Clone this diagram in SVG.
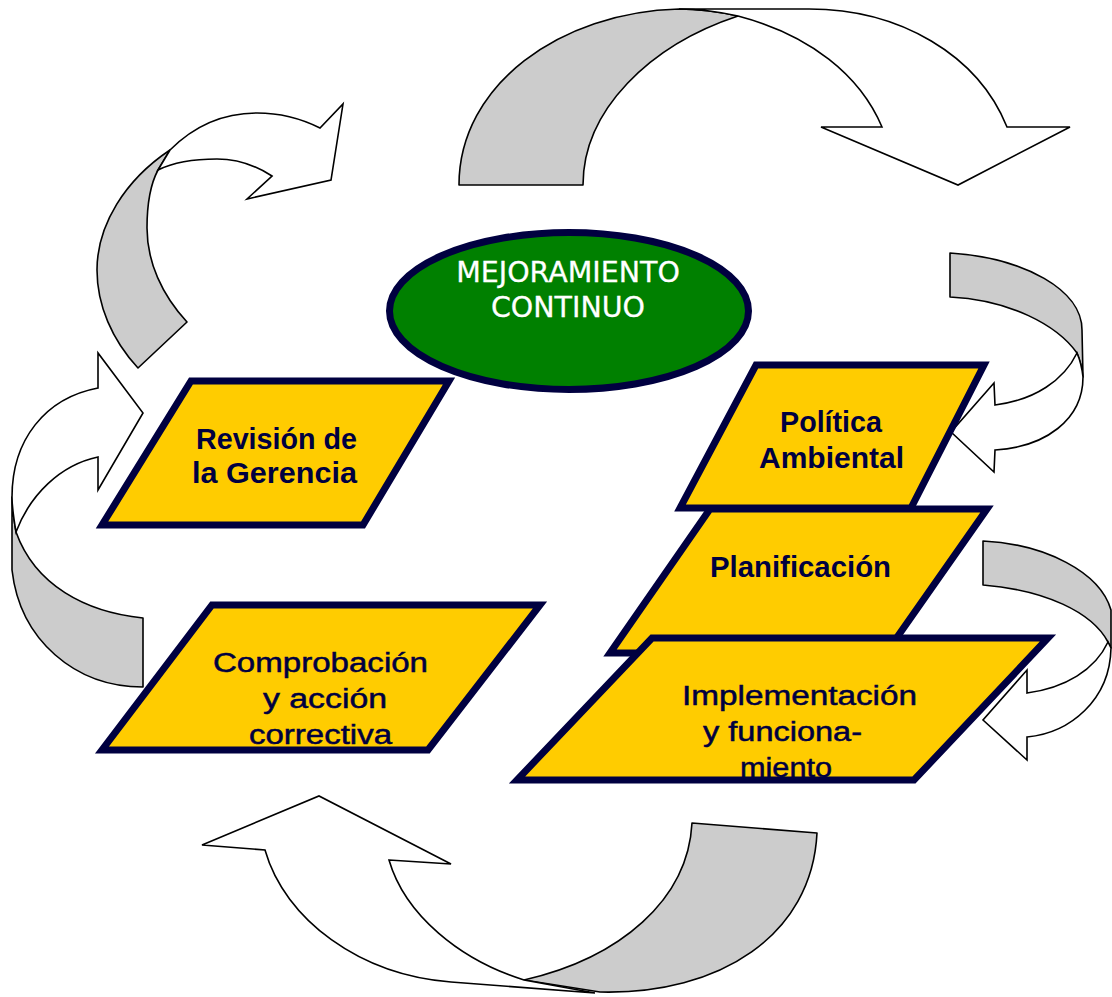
<svg xmlns="http://www.w3.org/2000/svg" width="1112" height="997" viewBox="0 0 1112 997">
  <style>
    .back { fill: #cccccc; stroke: #000000; stroke-width: 1.6; stroke-linejoin: round; }
    .front { fill: #ffffff; stroke: #000000; stroke-width: 1.6; stroke-linejoin: miter; }
    .box { fill: #ffcc00; stroke: #000040; stroke-width: 7; stroke-linejoin: miter; }
    .lbl-b { font-family: "Liberation Sans", Arial, sans-serif; font-weight: bold; font-size: 29px; fill: #000040; }
    .lbl-r { font-family: "Liberation Sans", Arial, sans-serif; font-size: 27px; fill: #000040; stroke: #000040; stroke-width: 0.5; }
    .title { font-family: "DejaVu Sans", Verdana, sans-serif; font-size: 28.5px; fill: #ffffff; stroke: #ffffff; stroke-width: 0.3; text-anchor: middle; }
  </style>

  <!-- curved cycle arrows -->
  <g id="connectors">
    <!-- top arrow -->
    <g id="arrow-top">
      <path class="back" d="M459,185 C459,85 560,12 679,9 C700,9 720,12 738,16 C650,45 583,110 583,185 Z"/>
      <path class="front" d="M679,9 L809,9 C900,9 978,55 1007,127 L1070,127 L958,185 L821,127 L882,127 C860,75 810,35 738,16 C720,12 700,9 679,9 Z"/>
    </g>
    <!-- upper left arrow -->
    <g id="arrow-upper-left">
      <path class="back" d="M138,368 C112,340 97,305 97,270 C97,225 125,180 170,150 L158,170 C150,185 147,205 147,228 C147,262 162,295 187,322 Z"/>
      <path class="front" d="M170,150 C195,125 225,113 257,113 C280,113 300,118 320,128 L343,104 L331,180 L247,199 L272,176 C255,165 235,159 217,159 C192,159 172,163 158,170 Z"/>
    </g>
    <!-- left arrow -->
    <g id="arrow-left">
      <path class="back" d="M12,497 L12,570 C20,640 75,687 143,687 L143,618 C85,612 35,585 16,532 C14,520 12,508 12,497 Z"/>
      <path class="front" d="M12,497 C12,440 45,398 98,388 L98,353 L143,413 L98,490 L98,457 C60,465 30,495 16,532 C14,520 12,508 12,497 Z"/>
    </g>
    <!-- upper right arrow -->
    <g id="arrow-upper-right">
      <path class="back" d="M950,253 C1025,258 1082,290 1082,330 L1083,377 C1082,368 1080,360 1077,353 C1057,325 1010,300 950,297 Z"/>
      <path class="front" d="M1083,377 C1083,420 1045,447 995,450 L994,472 L951,432 L994,383 L995,405 C1035,400 1064,380 1077,353 C1080,360 1082,368 1083,377 Z"/>
    </g>
    <!-- lower right arrow -->
    <g id="arrow-lower-right">
      <path class="back" d="M983,541 C1045,544 1100,572 1111,610 L1111,648 L1108,642 C1092,612 1045,590 983,585 Z"/>
      <path class="front" d="M1111,648 C1110,700 1070,733 1027,737 L1027,760 L983,720 L1027,670 L1027,693 C1065,688 1095,670 1108,642 Z"/>
    </g>
    <!-- bottom arrow -->
    <g id="arrow-bottom">
      <path class="back" d="M692,823 L817,833 C812,935 720,995 600,992 L524,980 C620,958 688,900 692,823 Z"/>
      <path class="front" d="M389,860 L451,864 L319,796 L202,845 L265,850 C285,920 360,975 451,982 L595,993 L524,980 C460,960 405,915 389,860 Z"/>
    </g>
  </g>

  <!-- centre node -->
  <g id="mejoramiento">
    <ellipse cx="569" cy="311" rx="179.5" ry="78.5" fill="#008000" stroke="#000040" stroke-width="7"/>
    <text class="title" x="568" y="282">MEJORAMIENTO</text>
    <text class="title" x="568" y="317">CONTINUO</text>
  </g>

  <g id="revision">
    <polygon class="box" points="191,381 449,381 363,525 102,525"/>
    <text class="lbl-b" x="196" y="449" textLength="161" lengthAdjust="spacingAndGlyphs">Revisión de</text>
    <text class="lbl-b" x="192" y="483" textLength="165" lengthAdjust="spacingAndGlyphs">la Gerencia</text>
  </g>

  <g id="comprobacion">
    <polygon class="box" points="212,605 540,605 428,750 102,750"/>
    <text class="lbl-r" x="213" y="672" textLength="215" lengthAdjust="spacingAndGlyphs">Comprobación</text>
    <text class="lbl-r" x="263" y="708" textLength="124" lengthAdjust="spacingAndGlyphs">y acción</text>
    <text class="lbl-r" x="249" y="744" textLength="143" lengthAdjust="spacingAndGlyphs">correctiva</text>
  </g>

  <g id="politica">
    <polygon class="box" points="756,365 984,365 911,508 680,508"/>
    <text class="lbl-b" x="780" y="432" textLength="102" lengthAdjust="spacingAndGlyphs">Política</text>
    <text class="lbl-b" x="759" y="468" textLength="145" lengthAdjust="spacingAndGlyphs">Ambiental</text>
  </g>

  <g id="planificacion">
    <polygon class="box" points="710,509 987,509 886,653 610,653"/>
    <text class="lbl-b" x="710" y="577" textLength="181" lengthAdjust="spacingAndGlyphs">Planificación</text>
  </g>

  <g id="implementacion">
    <polygon class="box" points="652,638 1048,638 914,780 517,780"/>
    <text class="lbl-r" x="682" y="705" textLength="235" lengthAdjust="spacingAndGlyphs">Implementación</text>
    <text class="lbl-r" x="703" y="741" textLength="159" lengthAdjust="spacingAndGlyphs">y funciona-</text>
    <text class="lbl-r" x="740" y="777" textLength="92" lengthAdjust="spacingAndGlyphs">miento</text>
  </g>
</svg>
